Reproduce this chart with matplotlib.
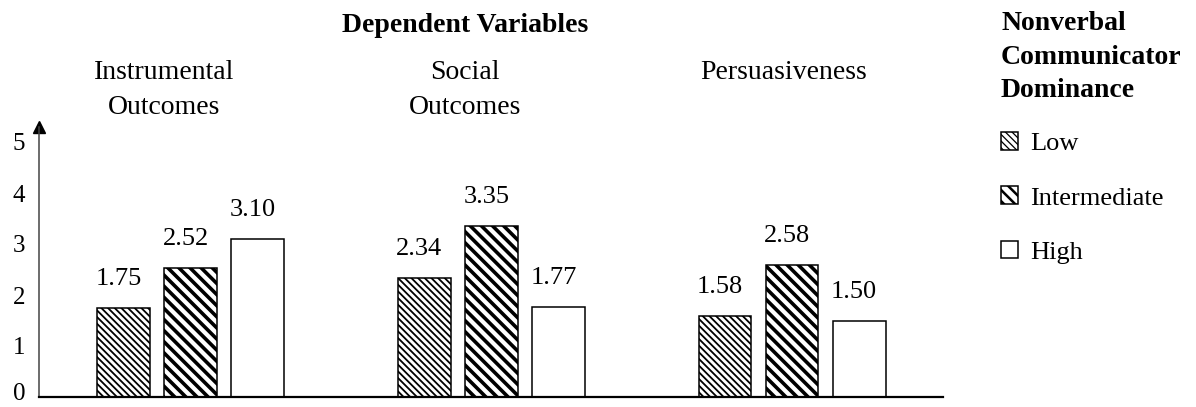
import numpy as np
import matplotlib
matplotlib.use("Agg")
import matplotlib.pyplot as plt
from matplotlib.transforms import ScaledTranslation

# ─────────────────────────────────────────────
# Data
# ─────────────────────────────────────────────
categories = ["Instrumental\nOutcomes", "Social\nOutcomes", "Persuasiveness"]
levels = ["Low", "Intermediate", "High"]
low_vals = [1.75, 2.34, 1.58]
mid_vals = [2.52, 3.35, 2.58]
high_vals = [3.10, 1.77, 1.50]
y_ticks = [0, 1, 2, 3, 4, 5]

# ─────────────────────────────────────────────
# Style
# ─────────────────────────────────────────────
W, H = 1196, 407
plt.rcParams['font.family'] = ['Liberation Serif', 'DejaVu Serif']
FS_HEAD = 20
FS_VAL = 19
FS_TICK = 18

hatches = ['\\' * 5, '\\' * 3, '']
hatch_lw = [1.3, 2.6, 1.0]
offsets = [-0.223, 0.0, 0.223]
bar_w = 0.176

fig = plt.figure(figsize=(W / 100, H / 100), dpi=100)
BOTTOM, TOP = 397, 127
ax = fig.add_axes([39 / W, 1 - BOTTOM / H, (943 - 39) / W, (BOTTOM - TOP) / H])

x = np.arange(len(categories))
bars = []
for vals, hatch, lw, off, name in zip([low_vals, mid_vals, high_vals],
                                      hatches, hatch_lw, offsets, levels):
    with plt.rc_context({'hatch.linewidth': lw, 'hatch.color': 'black'}):
        b = ax.bar(x + off, vals, width=bar_w, color='white',
                   edgecolor='black', linewidth=1.1, hatch=hatch, label=name)
    for p in b:
        if hasattr(p, 'set_hatch_linewidth'):
            p.set_hatch_linewidth(lw)
    bars.append(b)
    for xi, v in zip(x + off, vals):
        ax.annotate(f"{v:.2f}", (xi, v), xytext=(-5, 29),
                    textcoords='offset pixels', ha='center', va='center',
                    fontsize=FS_VAL)

ax.set_xlim(-0.504, 2.502)
ax.set_ylim(0, (BOTTOM - TOP) / 51)
ax.set_xticks([])
ax.set_yticks(y_ticks)
ax.tick_params(axis='y', length=0, pad=10, labelsize=FS_TICK)
for s in ['top', 'right']:
    ax.spines[s].set_visible(False)
ax.spines['bottom'].set_linewidth(1.6)
ax.spines['left'].set_linewidth(1.1)
ax.spines['left'].set_color('#444444')
# arrow head on the y axis
ax.plot([0], [1], marker='^', markersize=8, color='black',
        transform=ax.transAxes, clip_on=False)

# lift the "0" label a little so it sits above the figure edge
fig.canvas.draw()
zero_lbl = ax.get_yticklabels()[0]
zero_lbl.set_transform(zero_lbl.get_transform() +
                       ScaledTranslation(0, 5 / 100, fig.dpi_scale_trans))

# ─────────────────────────────────────────────
# Headings
# ─────────────────────────────────────────────
fig.text(465 / W, 1 - 25 / H, "Dependent Variables", ha='center', va='center',
         fontsize=FS_HEAD, fontweight='bold')
label_x = [164, 465, 784]
for lx, cat in zip(label_x, categories):
    fig.text(lx / W, 1 - 60 / H, cat, ha='center', va='top',
             fontsize=FS_HEAD, linespacing=1.5)

# ─────────────────────────────────────────────
# Legend
# ─────────────────────────────────────────────
leg = ax.legend(handles=bars, labels=levels,
                title="Nonverbal\nCommunicator\nDominance",
                title_fontproperties={'weight': 'bold', 'size': FS_HEAD},
                alignment='left', frameon=False, fontsize=FS_VAL,
                loc='upper left', bbox_to_anchor=(1001 / W, 1 - 11 / H),
                bbox_transform=fig.transFigure, borderpad=0, borderaxespad=0,
                handlelength=0.65, handleheight=0.65, handletextpad=0.45,
                labelspacing=1.18)
leg.get_title().set_linespacing(1.45)
leg._legend_box.sep = 21
for h, lw in zip(leg.legend_handles, hatch_lw):
    if hasattr(h, 'set_hatch_linewidth'):
        h.set_hatch_linewidth(lw * 0.7)

fig.savefig("out.png", dpi=100)
